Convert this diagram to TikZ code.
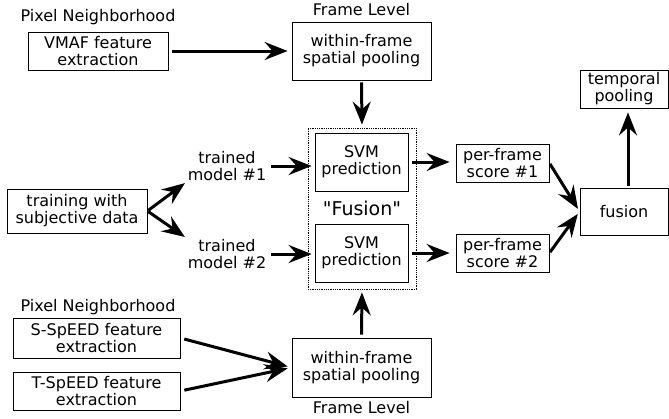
\documentclass[tikz,border=0pt]{standalone}
\usepackage{fontspec}
\setmainfont{DejaVu Sans}
\usetikzlibrary{arrows.meta,calc}

\begin{document}
\begin{tikzpicture}[
      font=\fontsize{16}{17}\selectfont,
      block/.style={draw, align=center, inner sep=0pt, line width=0.8pt},
      tag/.style={align=center, inner sep=1pt},
      link/.style={->, line width=3pt, shorten <=4pt, shorten >=4pt},
      >={Stealth[length=23pt,width=18pt,inset=8pt]}]

    \useasboundingbox (0pt,0pt) rectangle (669pt,-418pt);

    % top row: feature extraction and pooling
    \node[tag] (nbtop) at (98pt,-17pt) {Pixel Neighborhood};
    \node[block, minimum width=140pt, minimum height=38pt] (vmaf) at (98pt,-51pt)
      {VMAF feature\\extraction};
    \node[tag] (fltop) at (361.5pt,-10pt) {Frame Level};
    \node[block, minimum width=139pt, minimum height=58pt] (pooltop) at (361.5pt,-51pt)
      {within-frame\\spatial pooling};
    \draw[link] (vmaf.east) -- (pooltop.west);

    % fusion block
    \node[draw, densely dotted, line width=0.8pt, minimum width=108pt,
          minimum height=161pt, inner sep=0pt] (fusebox) at (362pt,-208.5pt) {};
    \node[block, minimum width=93pt, minimum height=58pt] (svm1) at (361.5pt,-162pt)
      {SVM\\prediction};
    \node[block, minimum width=93pt, minimum height=58pt] (svm2) at (361.5pt,-253pt)
      {SVM\\prediction};
    \node[tag, font=\fontsize{19}{20}\selectfont] (fuselabel) at (362pt,-208pt)
      {\textquotedbl Fusion\textquotedbl};
    \draw[link, shorten <=2pt, shorten >=3pt] (pooltop.south) -- (fusebox.north);

    % training
    \node[block, minimum width=140pt, minimum height=44pt] (train) at (77pt,-211pt)
      {training with\\subjective data};
    \node[tag] (model1) at (227pt,-166pt) {trained\\model \#1};
    \node[tag] (model2) at (227pt,-254pt) {trained\\model \#2};
    \draw[link, shorten <=1pt, shorten >=2pt] (train.east) -- (model1.south west);
    \draw[link, shorten <=1pt, shorten >=2pt] (train.east) -- (model2.north west);
    \draw[link, shorten >=3pt] (model1.east) -- (model1.east -| svm1.west);
    \draw[link, shorten >=3pt] (model2.east) -- (model2.east -| svm2.west);

    % scores and fusion
    \node[block, minimum width=93pt, minimum height=38pt] (score1) at (502.5pt,-163pt)
      {per-frame\\score \#1};
    \node[block, minimum width=93pt, minimum height=38pt] (score2) at (502.5pt,-253pt)
      {per-frame\\score \#2};
    \draw[link, shorten >=6pt] (svm1.east) -- (svm1.east -| score1.west);
    \draw[link, shorten >=6pt] (svm2.east) -- (svm2.east -| score2.west);
    \node[block, minimum width=88pt, minimum height=47pt] (fusion) at (624pt,-211.5pt)
      {fusion};
    \node[block, minimum width=88pt, minimum height=38pt] (temporal) at (624pt,-89pt)
      {temporal\\pooling};
    \draw[link, shorten <=1pt, shorten >=3pt] (score1.east) -- (fusion.west);
    \draw[link, shorten <=1pt, shorten >=3pt] (score2.east) -- (fusion.west);
    \draw[link, shorten <=2pt, shorten >=4pt] (fusion.north -| 628pt,0) -- (temporal.south -| 628pt,0);

    % bottom row: SpEED features
    \node[tag] (nbbot) at (98pt,-307pt) {Pixel Neighborhood};
    \node[block, minimum width=167pt, minimum height=40pt] (sspeed) at (96.5pt,-338pt)
      {S-SpEED feature\\extraction};
    \node[block, minimum width=167pt, minimum height=38pt] (tspeed) at (96.5pt,-391pt)
      {T-SpEED feature\\extraction};
    \node[block, minimum width=139pt, minimum height=59pt] (poolbot) at (361.5pt,-367.5pt)
      {within-frame\\spatial pooling};
    \node[tag] (flbot) at (361.5pt,-408pt) {Frame Level};
    \draw[link] (sspeed.east) -- (poolbot.west);
    \draw[link] (tspeed.east) -- (poolbot.west);
    \draw[link, shorten <=3pt, shorten >=3pt] (poolbot.north) -- (fusebox.south);
\end{tikzpicture}
\end{document}
